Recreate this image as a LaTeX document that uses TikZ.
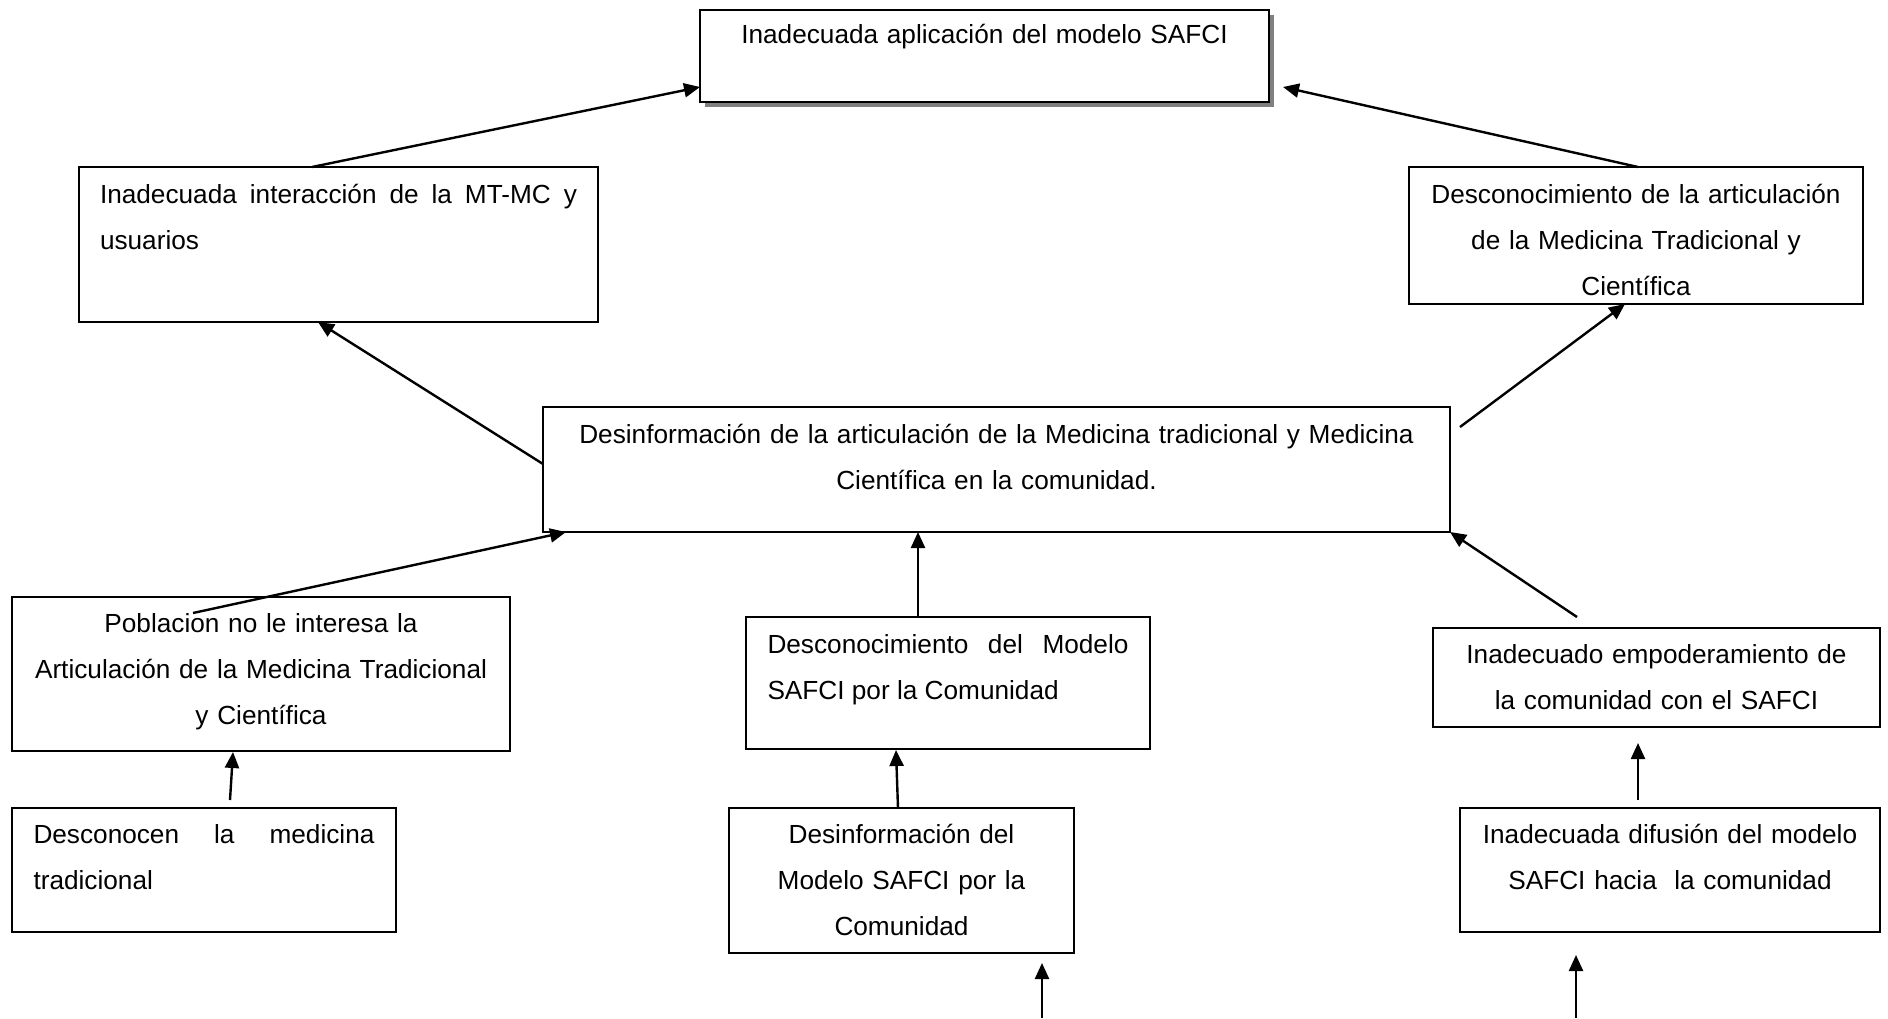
\documentclass[tikz,border=0pt]{standalone}
\usepackage{fontspec}
\setmainfont{Liberation Sans}
\usetikzlibrary{arrows.meta,calc,shadows}
\begin{document}
\begin{tikzpicture}[x=1pt,y=-1pt,
  box/.style={draw=black,line width=2pt,inner sep=0pt,outer sep=0pt,fill=white},
  topbox/.style={box,line width=2.6pt,drop shadow={shadow xshift=5pt,shadow yshift=-5pt,fill=black!50,opacity=1}},
  txt/.style={inner sep=0pt,outer sep=0pt,anchor=base,font=\fontsize{26.2pt}{46pt}\selectfont},
  ctxt/.style={txt,align=center},
  jtxt/.style={txt,align=justify},
  arr/.style={line width=2.4pt,-{Triangle[length=16pt,width=14pt]}}
]
\useasboundingbox (0,0) rectangle (1888,1018);
\hyphenpenalty=10000
% boxes
\node[topbox,minimum width=569pt,minimum height=92pt] (top) at (984.5,56) {};
\node[box,minimum width=519pt,minimum height=155pt] (b2) at (338.5,244.5) {};
\node[box,minimum width=454pt,minimum height=137pt] (b3) at (1636,235.5) {};
\node[box,minimum width=907pt,minimum height=125pt] (c) at (996.5,469.5) {};
\node[box,minimum width=498pt,minimum height=154pt] (b5) at (261,674) {};
\node[box,minimum width=404pt,minimum height=132pt] (b6) at (948,683) {};
\node[box,minimum width=447pt,minimum height=99pt] (b7) at (1656.5,677.5) {};
\node[box,minimum width=384pt,minimum height=124pt] (b8) at (204,870) {};
\node[box,minimum width=345pt,minimum height=145pt] (b9) at (901.5,880.5) {};
\node[box,minimum width=420pt,minimum height=124pt] (b10) at (1670,870) {};
% texts
\node[ctxt,text width=550pt] (t1) at (984.5,43) {Inadecuada aplicación del modelo SAFCI};
\node[jtxt,text width=477pt] (t2) at (338.5,203) {Inadecuada interacción de la MT-MC y\linebreak usuarios};
\node[ctxt,text width=440pt] (t3) at (1636,203) {Desconocimiento de la articulación\\de la Medicina Tradicional y\\Científica};
\node[ctxt,text width=895pt] (tc) at (996.5,443) {Desinformación de la articulación de la Medicina tradicional y Medicina\\Científica en la comunidad.};
\node[ctxt,text width=490pt] (t5) at (261,632) {Poblacion no le interesa la\\Articulación de la Medicina Tradicional\\y Científica};
\node[jtxt,text width=361pt] (t6) at (948,653) {Desconocimiento del Modelo\linebreak SAFCI por la Comunidad};
\node[ctxt,text width=435pt] (t7) at (1656.5,663) {Inadecuado empoderamiento de\\la comunidad con el SAFCI};
\node[jtxt,text width=341pt] (t8) at (204,843) {Desconocen la medicina\linebreak tradicional};
\node[ctxt,text width=335pt] (t9) at (901.5,843) {Desinformación del\\Modelo SAFCI por la\\Comunidad};
\node[ctxt,text width=410pt] (t10) at (1670,843) {Inadecuada difusión del modelo\\SAFCI hacia\ \ la comunidad};
% free ends
\coordinate (s11) at (1042,1018);
\coordinate (s12) at (1576,1018);
% connectors
\draw[arr] ($(b2.north west)+(233,0)$) -- ($(top.north west)+(0,77)$);
\draw[arr] ($(b3.north west)+(229,0)$) -- ($(top.north east)+(14,77)$);
\draw[arr] ($(c.north west)+(0,57)$) -- ($(b2.south west)+(239,0)$);
\draw[arr] ($(c.north east)+(10,20)$) -- ($(b3.south west)+(216,0)$);
\draw[arr] ($(b5.north west)+(181,16)$) -- ($(c.south west)+(23,0)$);
\draw[arr] ($(b6.north west)+(172,0)$) -- ($(c.south west)+(375,0)$);
\draw[arr] ($(b7.north west)+(144,-11)$) -- (c.south east);
\draw[arr] ($(b8.north west)+(218,-8)$) -- ($(b5.south west)+(221,1)$);
\draw[arr] ($(b9.north west)+(169,0)$) -- ($(b6.south west)+(150,1)$);
\draw[arr] ($(b10.north west)+(178,-8)$) -- ($(b7.south west)+(205,16)$);
\draw[arr] (s11) -- ($(b9.south west)+(313,10)$);
\draw[arr] (s12) -- ($(b10.south west)+(116,23)$);
\end{tikzpicture}
\end{document}
